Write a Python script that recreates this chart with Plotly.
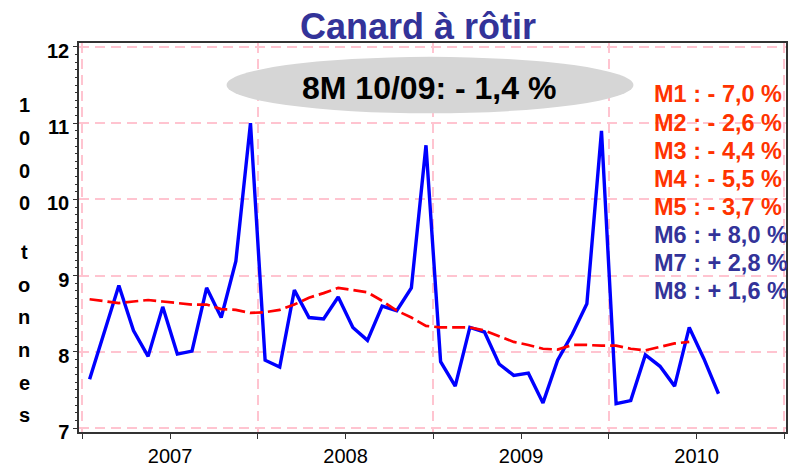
import plotly.graph_objects as go

# ---------------- data ----------------
months = [f"{y}-{m:02d}" for y in (2007, 2008, 2009, 2010) for m in range(1, 13)][:44]

volume = [7.64, 8.26, 8.87, 8.28, 7.94, 8.59, 7.97, 8.01, 8.84, 8.45, 9.19, 11.00,
          7.89, 7.80, 8.81, 8.45, 8.43, 8.72, 8.32, 8.15, 8.60, 8.54, 8.84, 10.71,
          7.87, 7.55, 8.32, 8.26, 7.84, 7.69, 7.72, 7.33, 7.89, 8.23, 8.63, 10.90,
          7.32, 7.36, 7.96, 7.81, 7.55, 8.32, 7.91, 7.45]

trend = [8.69, 8.67, 8.64, 8.66, 8.68, 8.66, 8.64, 8.62, 8.62, 8.56, 8.55, 8.51,
         8.52, 8.55, 8.62, 8.71, 8.77, 8.84, 8.81, 8.78, 8.67, 8.54, 8.45, 8.34,
         8.32, 8.32, 8.32, 8.28, 8.20, 8.13, 8.09, 8.04, 8.03, 8.09, 8.09, 8.08,
         8.08, 8.04, 8.02, 8.06, 8.11, 8.13]

years = ["2007", "2008", "2009", "2010"]
y_ticks = [7, 8, 9, 10, 11, 12]

title_text = "Canard à rôtir"
summary_text = "8M 10/09: - 1,4 %"
month_labels = ["M1 : - 7,0 %", "M2 : - 2,6 %", "M3 : - 4,4 %", "M4 : - 5,5 %",
                "M5 : - 3,7 %", "M6 : + 8,0 %", "M7 : + 2,8 %", "M8 : + 1,6 %"]
month_colors = ["#FF3300"] * 5 + ["#333399"] * 3
y_title = "1000 tonnes"

# ---------------- layout geometry ----------------
W, H = 791, 470
ML, MR, MT, MB = 79, 3, 43, 34
PW, PH = W - ML - MR, H - MT - MB
FONT = "Arial, Liberation Sans, sans-serif"


def px_x(x):
    return (x - ML) / PW


def px_y(y):
    return (H - MB - y) / PH


def pos(label):
    yy, mm = label.split("-")
    return (int(yy) - 2007) * 12 + int(mm) - 0.5


x_all = [pos(m) for m in months]

fig = go.Figure()
fig.add_trace(go.Scatter(x=x_all, y=volume, mode="lines",
                         line=dict(color="#0000FF", width=3.4), showlegend=False))
fig.add_trace(go.Scatter(x=x_all[:len(trend)], y=trend, mode="lines",
                         line=dict(color="#FF0000", width=2.7, dash="13px,5px"),
                         showlegend=False))

grid = "#FFC4D0"
fig.update_xaxes(
    range=[-0.225, 48.116],
    tickvals=[(int(y) - 2007) * 12 + 6 for y in years], ticktext=years,
    ticks="outside", ticklen=5, tickcolor="#333", tickwidth=1,
    showgrid=False, zeroline=False,
    showline=True, linecolor="#333", linewidth=1.5, mirror=True,
    tickfont=dict(family=FONT, size=20, color="black"),
    minor=dict(tick0=0, dtick=12, ticks="outside", ticklen=5, tickcolor="#333",
               showgrid=True, gridcolor=grid, griddash="10px,6px", gridwidth=1.5),
)
fig.update_yaxes(
    range=[6.948, 12.052],
    tickvals=y_ticks,
    ticks="outside", ticklen=4, tickcolor="#333", tickwidth=1,
    showgrid=True, gridcolor=grid, griddash="10px,6px", gridwidth=1.5,
    zeroline=False,
    showline=True, linecolor="#333", linewidth=1.5, mirror=True,
    ticklabelshift=4,
    tickfont=dict(family=FONT, size=20, color="black", weight="bold"),
    minor=dict(dtick=0.1, ticks="outside", ticklen=2.5, tickcolor="#333", showgrid=False),
)

shapes = [dict(type="circle", xref="paper", yref="paper",
               x0=px_x(227), x1=px_x(635), y0=px_y(114), y1=px_y(57),
               fillcolor="#D6D6D6", line=dict(width=0), layer="above")]

annotations = [dict(text=summary_text, xref="paper", yref="paper",
                    x=px_x(430), y=px_y(88), xanchor="center", yanchor="middle",
                    showarrow=False,
                    font=dict(family=FONT, size=32, color="black", weight="bold"))]

for i, (t, c) in enumerate(zip(month_labels, month_colors)):
    annotations.append(dict(text=t, xref="paper", yref="paper",
                            x=px_x(654), y=px_y(95 + 28.4 * i),
                            xanchor="left", yanchor="middle", showarrow=False,
                            font=dict(family=FONT, size=23.5, color=c, weight="bold")))

# vertical stacked axis title
word1, word2 = y_title.split(" ")
for i, ch in enumerate(word1):
    annotations.append(dict(text=ch, xref="paper", yref="paper",
                            x=px_x(24), y=px_y(106 + 33 * i), xanchor="center",
                            yanchor="middle", showarrow=False,
                            font=dict(family=FONT, size=20, color="black", weight="bold")))
for i, ch in enumerate(word2):
    annotations.append(dict(text=ch, xref="paper", yref="paper",
                            x=px_x(24), y=px_y(254 + 33 * i), xanchor="center",
                            yanchor="middle", showarrow=False,
                            font=dict(family=FONT, size=20, color="black", weight="bold")))

fig.update_layout(
    width=W, height=H,
    margin=dict(l=ML, r=MR, t=MT, b=MB),
    paper_bgcolor="white", plot_bgcolor="white",
    title=dict(text=title_text, x=418 / W, xanchor="center",
               y=1 - 26 / H, yanchor="middle", xref="container", yref="container",
               font=dict(family=FONT, size=36, color="#333399", weight="bold")),
    shapes=shapes, annotations=annotations, showlegend=False,
)

fig.write_html("out.html", config={"displayModeBar": False},
               post_script="document.body.style.margin='0';document.body.style.overflow='hidden';")
